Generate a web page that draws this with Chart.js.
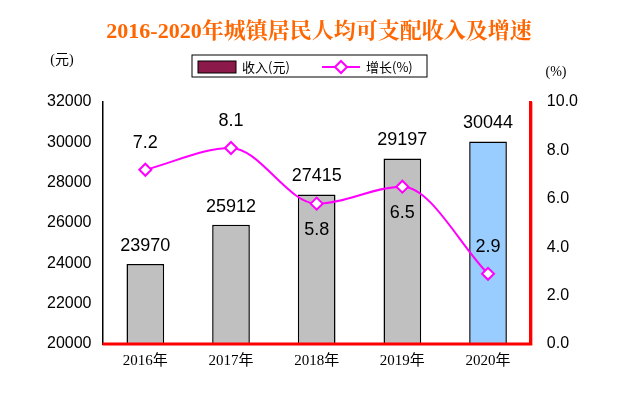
<!DOCTYPE html>
<html><head><meta charset="utf-8">
<script src="https://cdn.jsdelivr.net/npm/chart.js@4"></script>
<style>body{margin:0;background:#fff}#wrap{width:638px;height:412px}</style>
</head><body><div id="wrap"><canvas id="c"></canvas></div>
<script>
const years = ["2016年", "2017年", "2018年", "2019年", "2020年"];
const income = [23970, 25912, 27415, 29197, 30044];
const growth = [7.2, 8.1, 5.8, 6.5, 2.9];
const growthLabelBelow = [false, false, true, true, false];
const barColors = ["#C0C0C0", "#C0C0C0", "#C0C0C0", "#C0C0C0", "#99CCFF"];

const serif = "'Liberation Serif', 'Noto Sans CJK SC', serif";

const extras = {
  id: "extras",
  afterDraw(chart) {
    const c = chart.ctx, a = chart.chartArea;
    c.save();
    // title
    c.fillStyle = "#FF6600";
    c.font = "bold 22px 'Liberation Serif', 'Noto Serif CJK SC', 'Noto Sans CJK SC', serif";
    c.textAlign = "center";
    c.textBaseline = "middle";
    c.fillText("2016-2020年城镇居民人均可支配收入及增速", 319, 32);
    // units
    c.fillStyle = "#000";
    c.font = "14px " + serif;
    c.fillText("(元)", 62, 60);
    c.fillText("(%)", 556, 72);
    // legend
    c.strokeStyle = "#000"; c.lineWidth = 1;
    c.strokeRect(192, 55, 235, 22);
    c.fillStyle = "#8B1A4A";
    c.fillRect(198, 61, 38, 12);
    c.strokeRect(198, 61, 38, 12);
    c.fillStyle = "#000"; c.textAlign = "left";
    c.font = "13px 'Noto Sans CJK SC', sans-serif";
    c.fillText("收入(元)", 242, 67);
    c.strokeStyle = "#FF00FF"; c.lineWidth = 2;
    c.beginPath(); c.moveTo(322, 67); c.lineTo(360, 67); c.stroke();
    c.fillStyle = "#fff"; c.beginPath();
    c.moveTo(341, 61); c.lineTo(347, 67); c.lineTo(341, 73); c.lineTo(335, 67); c.closePath();
    c.fill(); c.stroke();
    c.fillStyle = "#000";
    c.fillText("增长(%)", 366, 67);
    // value labels
    c.textAlign = "center";
    c.font = "18px 'Liberation Sans', sans-serif";
    const bm = chart.getDatasetMeta(0), lm = chart.getDatasetMeta(1);
    bm.data.forEach((el, i) => c.fillText(String(income[i]), el.x, el.y - 18));
    lm.data.forEach((el, i) => c.fillText(growth[i].toFixed(1), el.x, el.y + (growthLabelBelow[i] ? 26 : -27)));
    // red axes
    c.strokeStyle = "#FF0000"; c.lineWidth = 3;
    c.beginPath(); c.moveTo(a.left, a.bottom); c.lineTo(a.right, a.bottom); c.lineTo(a.right, a.top); c.stroke();
    c.restore();
  }
};

new Chart(document.getElementById("c"), {
  data: {
    labels: years,
    datasets: [
      { type: "bar", data: income, yAxisID: "y", backgroundColor: barColors,
        borderColor: "#000", borderWidth: 1.5, borderSkipped: false,
        barPercentage: 0.44, categoryPercentage: 1, order: 2 },
      { type: "line", data: growth, yAxisID: "y1", borderColor: "#FF00FF", borderWidth: 2,
        cubicInterpolationMode: "monotone", tension: 0.4, pointStyle: "rectRot", pointRadius: 6,
        pointBackgroundColor: "#fff", pointBorderColor: "#FF00FF", pointBorderWidth: 2, order: 1 }
    ]
  },
  options: {
    responsive: true, maintainAspectRatio: false, animation: false,
    layout: { padding: { top: 102, left: 44, right: 52, bottom: 34 } },
    plugins: { legend: { display: false }, tooltip: { enabled: false } },
    scales: {
      x: { grid: { display: false, drawTicks: false }, border: { display: false },
        ticks: { color: "#000", padding: 8, font: { size: 15, family: serif } } },
      y: { min: 20000, max: 32000, grid: { display: false }, border: { color: "#000", width: 1.5 },
        ticks: { stepSize: 2000, color: "#000", callback: v => String(v),
          font: { size: 16, family: "'Liberation Sans', sans-serif" } } },
      y1: { position: "right", min: 0, max: 10, grid: { display: false }, border: { color: "#FF0000", width: 3 },
        ticks: { stepSize: 2, color: "#000", padding: 8, callback: v => v.toFixed(1),
          font: { size: 16, family: "'Liberation Sans', sans-serif" } } }
    }
  },
  plugins: [extras]
});
</script></body></html>
